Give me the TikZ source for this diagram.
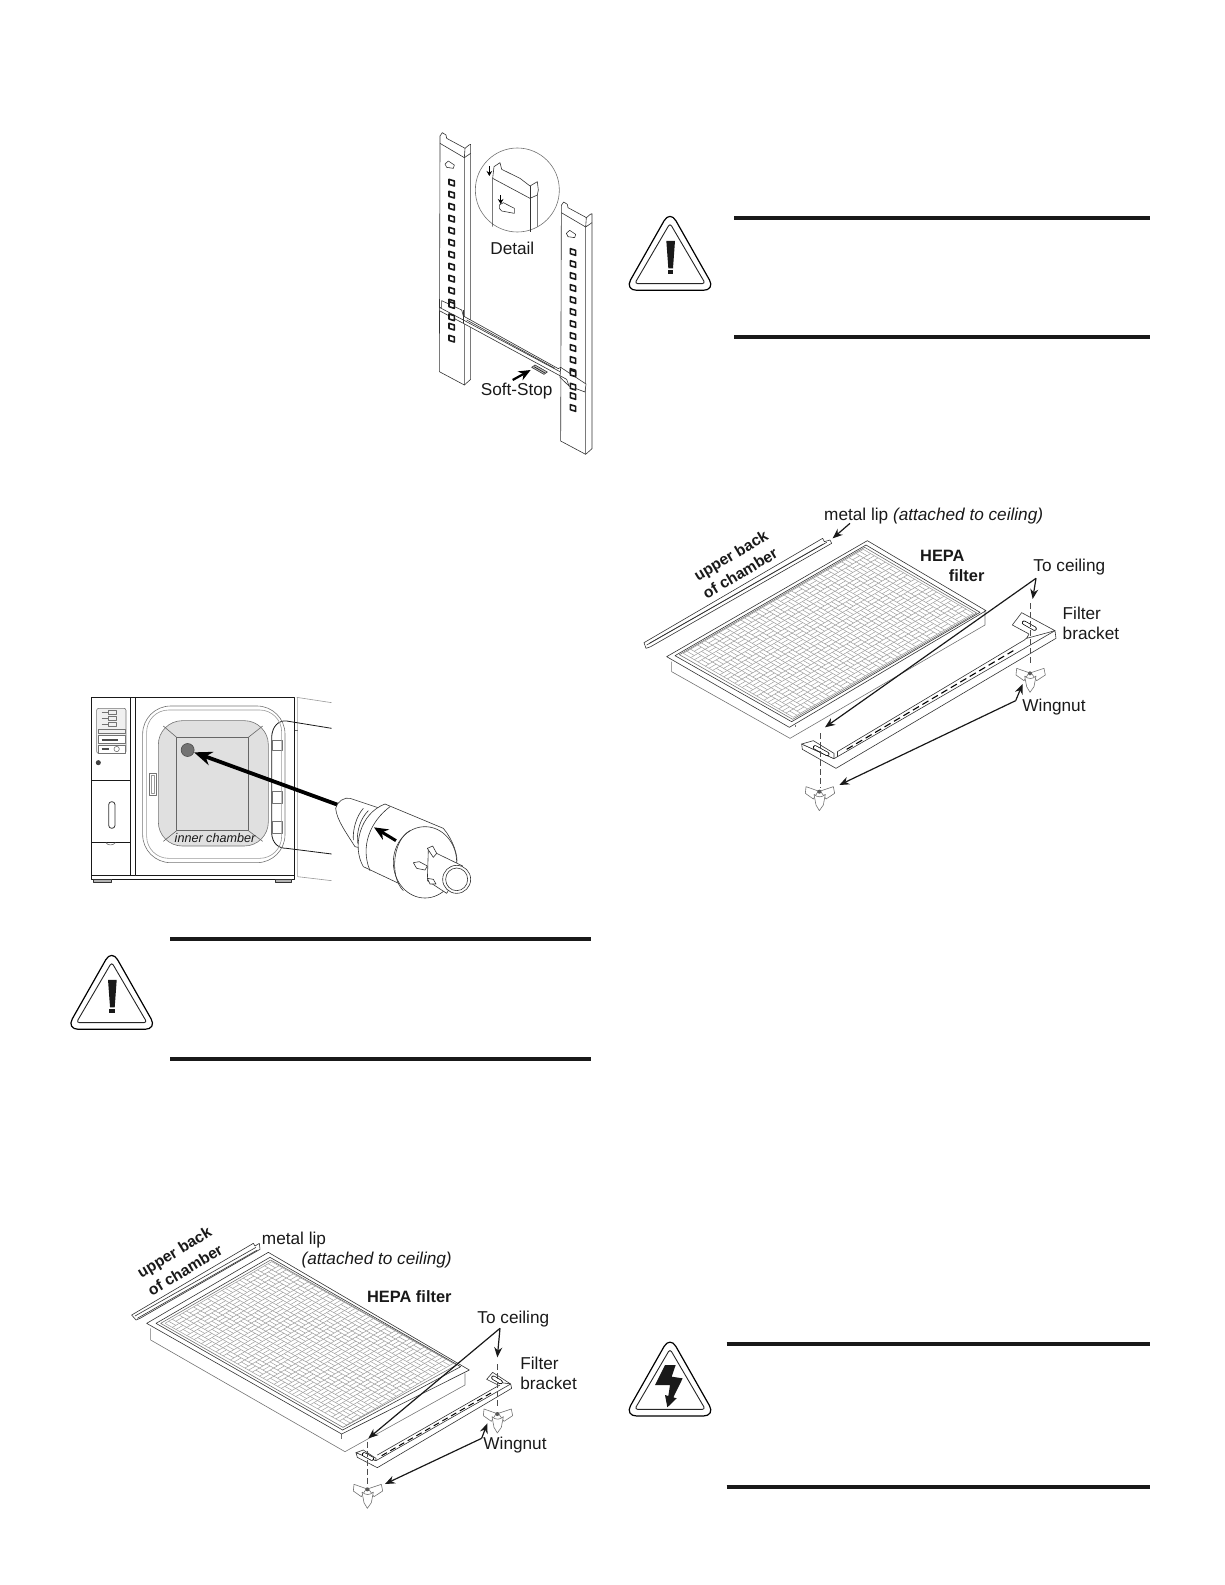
\documentclass[tikz,border=0pt]{standalone}
\usepackage{fontspec}
\setmainfont{Liberation Sans}
\usetikzlibrary{arrows.meta}
\tikzset{
  zoomed/.style 2 args={shift={(#1,#2)},scale=1/3},
  lbl/.style={inner sep=0pt,yshift=-.7pt,text=black!90,font=\fontsize{8.6}{10}\selectfont},
  boldlbl/.style={inner sep=0pt,text=black!90,font=\fontsize{8.2}{10}\selectfont\bfseries},
  tiltlbl/.style={inner sep=0pt,text=black!90,rotate=31,font=\fontsize{7.8}{10}\selectfont\bfseries},
  thinline/.style={line width=.3pt,black!80},
  fineline/.style={line width=.3pt,black!55},
  faintline/.style={line width=.3pt,black!40},
  meshline/.style={line width=.25pt,black!38},
  callout/.style={line width=.6pt,black!90,-{Stealth[length=5pt,width=4pt]}},
  heavyarrow/.style={line width=1.1pt,black,-{Stealth[length=6pt,width=5pt]}},
  guide/.style={line width=.35pt,black!70,dash pattern=on 3pt off 1.5pt},
  rulebar/.style={line width=2pt,black!90},
  slot/.style={line width=.35pt,black,double=white,double distance=1.4pt,line cap=round},
  pics/wingnut/.style={code={
    \draw[fineline,fill=white] (-3,-2)--(-40,-15)--(-42,5)--(-18,22)--cycle;
    \draw[fineline,fill=white] (3,-2)--(42,-15)--(46,5)--(20,22)--cycle;
    \draw[fineline,fill=white] (-16,8)--(-10,40)--(0,57)--(12,40)--(18,8) .. controls (8,18) and (-6,18) .. (-16,8);
    \fill[black!65] (0,0) circle (3pt);
  }},
  pics/warntri/.style={code={
    \draw[line width=.6pt,rounded corners=6pt] (0,-24)--(-136,216)--(136,216)--cycle;
    \draw[line width=.45pt,black!85,rounded corners=1.5pt] (0,15)--(-106,196)--(106,196)--cycle;
  }},
  pics/bang/.style={code={
    \fill[black!90] (-11,68)--(15,68)--(9,150)--(-5,150)--cycle;
    \fill[black!90] (-7,156) rectangle (10,168);
  }},
  pics/bolt/.style={code={
    \fill[black!90] (-15,63)--(17,63)--(5,98)--(38,103)--(10,160)--(20,163)--(-8,190)--(-15,153)--(-5,156)--(0,123)--(-45,123)--cycle;
  }},
  pics/railhole/.style={code={
    \draw[line width=.8pt,black!90,fill=white] (-8,-10)--(8,-5)--(8,10)--(-8,5)--cycle;
  }},
  pics/rail/.style={code={
    \draw[fineline,black!80] (0,0)--(0,-22)--(7,-32)--(18,-25)--(20,-15)--(70,12)--(75,15)--(87,5)--(92,3)--(92,30)--(92,708)--(73,725)--(-2,685)--cycle;
    \draw[fineline,black!80] (0,0)--(73,43)--(73,725);
    \draw[fineline,black!80] (75,15)--(73,43)--(92,30);
    \draw[fineline,black!80] (15,62)--(25,53)--(43,65)--(40,75)--(20,72)--cycle;
    \foreach \n in {0,...,13}
      \pic[scale=1/3] at (35,118+36*\n) {railhole};
  }},
}
%% mesh: origin, step along one side, step along the other, cell counts
\newcommand{\meshgrid}[8]{
  \begin{scope}[shift={(#1,#2)},x={({#3*0.5pt},{-#4*0.5pt})},y={({#5*0.5pt},{-#6*0.5pt})}]
    \foreach \i in {0,...,#7}
      \draw[meshline] (\i,0) -- (\i,#8);
    \foreach \j in {0,...,#8}
      \draw[meshline] (0,\j) -- (#7,\j);
    \foreach \i in {1,...,#7}
      \foreach \j in {1,...,#8} {
        \pgfmathtruncatemacro{\odd}{mod(\i+\j,2)}
        \ifnum\odd=0
          \draw[meshline] (\i-1,\j-.5) -- (\i,\j-.5);
        \else
          \draw[meshline] (\i-.5,\j-1) -- (\i-.5,\j);
        \fi
      }
  \end{scope}
}
\begin{document}
\begin{tikzpicture}[x=.5pt,y=-.5pt,line join=round]
\useasboundingbox (0,0) rectangle (1225,1585);
%% shelf rails
\begin{scope}[zoomed={420}{110}]
  \pic[scale=1/3] at (60,100) {rail};
  \pic[scale=1/3] at (424,308) {rail};
  \draw[thinline,fill=white] (58,592)--(58,602)--(130,640)--(440,808)--(447,828)--(495,846)--(498,822)--(422,772)--(415,776)--(130,618)--(125,600)--(65,572)--(65,592)--cycle;
  \draw[thinline] (58,592)--(130,630)--(420,785);
  \draw[thinline] (130,600)--(130,640);
  \draw[thinline] (422,772)--(420,802)--(447,828);
  \draw[thinline] (140,630)--(405,775);
  \pic[scale=1/3] at (95,585) {railhole};
  \pic[scale=1/3] at (95,622) {railhole};
  \pic[scale=1/3] at (459,790) {railhole};
  \pic[scale=1/3] at (459,830) {railhole};
  \draw[thinline,fill=black!25] (335,772)--(345,765)--(382,786)--(372,793)--cycle;
  \draw[line width=.25pt] (342,770)--(375,789);
  %% detail
  \node (detailring) at (292,240) [circle,draw=black!55,line width=.3pt,minimum size=42pt,inner sep=0pt] {};
  \draw[thinline] (218,350)--(218,205)--(222,170)--(240,158)--(245,178)--(300,205)--(330,228)--(352,215)--(355,240)--(352,255)--(352,350);
  \draw[thinline] (218,205)--(330,265)--(352,255);
  \draw[thinline] (330,228)--(330,365);
  \draw[thinline] (238,285)--(250,278)--(283,295)--(283,310)--(245,303)--(238,295)--cycle;
  \coordinate (tabtail) at (208,168);
  \coordinate (tabtip) at (208,198);
  \coordinate (slottail) at (242,255);
  \coordinate (slottip) at (242,282);
  \draw[line width=.7pt,-{Stealth[length=2.5pt,width=2.8pt]}] (tabtail) -- (tabtip);
  \draw[line width=.7pt,-{Stealth[length=2.5pt,width=2.8pt]}] (slottail) -- (slottip);
  \node (detail) at (277,410) [lbl] {Detail};
  \node (softstop) at (290,840) [lbl] {Soft-Stop};
  \coordinate (softtail) at (278,810);
  \coordinate (softtip) at (332,780);
  \draw[heavyarrow] (softtail) -- (softtip);
\end{scope}
%% incubator
\begin{scope}[zoomed={70}{680}]
  \draw[faintline] (680,52)--(785,68);
  \draw[faintline] (683,52)--(683,590)--(785,602);
  \draw[fineline,black!60] (672,150)--(683,150);
  \draw[line width=.4pt,black!90] (785,145)--(650,123) .. controls (625,120) and (607,140) .. (605,170)--(605,460) .. controls (607,490) and (625,505) .. (650,505)--(785,522);
  \draw[fineline] (608,180) rectangle (637,212);
  \draw[fineline] (608,335) rectangle (637,370);
  \draw[fineline] (608,425) rectangle (637,460);
  \draw[line width=.45pt,black!90] (65,52) rectangle (672,598);
  \draw[line width=.7pt,black!90] (182,52)--(182,585);
  \draw[line width=.35pt,black!90] (195,52)--(195,585)--(672,585);
  \draw[line width=.35pt,black!90] (65,585)--(195,585);
  \draw[line width=.5pt,black!90] (65,300)--(182,300);
  \draw[line width=.5pt,black!90] (65,488)--(182,488);
  \draw[fineline] (108,488) .. controls (112,497) and (130,497) .. (136,488);
  \draw[line width=.5pt,black!80,fill=black!30] (70,598) rectangle (125,606);
  \draw[line width=.5pt,black!80,fill=black!30] (615,598) rectangle (665,606);
  \draw[line width=.4pt,black!80,rounded corners=1.5pt] (116,365) rectangle (135,445);
  \fill[black!75] (85,248) circle (3.8pt);
  \draw[fineline,fill=black!6,rounded corners=1pt] (80,85) rectangle (168,220);
  \foreach \yy in {97,115,133} {
    \draw[fineline] (95,\yy)--(115,\yy);
    \draw[fineline] (115,\yy-5) rectangle (140,\yy+6);
  }
  \draw[fineline] (85,147) rectangle (165,160);
  \draw[fineline,fill=white] (85,165) rectangle (165,190);
  \draw[line width=.8pt,black!70] (95,180)--(145,180);
  \draw[fineline,fill=white] (85,195) rectangle (165,220);
  \draw[line width=.7pt,black!70] (95,207)--(118,207);
  \draw[fineline] (140,207) circle (4pt);
  %% door window
  \draw[fineline,rounded corners=14pt] (218,78) rectangle (645,548);
  \draw[faintline,rounded corners=11pt] (230,90) rectangle (635,535);
  \draw[fineline,fill=black!12,rounded corners=12pt] (265,122) rectangle (595,498);
  \draw[fineline,black!60] (320,172) rectangle (535,452);
  \draw[fineline,black!60] (320,172)--(280,138);
  \draw[fineline,black!60] (535,172)--(578,138);
  \draw[fineline,black!60] (320,452)--(280,484);
  \draw[fineline,black!60] (535,452)--(578,484);
  \draw[fineline] (237,280) rectangle (260,345);
  \draw[faintline] (243,285) rectangle (254,340);
  \node (innerchamber) at (435,475) [inner sep=0pt,text=black!90,font=\fontsize{6.3}{8}\selectfont\itshape] {inner chamber};
  \node (portdot) at (353,210) [circle,fill=black!55,draw=black!70,line width=.3pt,minimum size=6.5pt,inner sep=0pt] {};
  \coordinate (nose) at (805,375);
  \draw[line width=1.9pt,black,-{Stealth[length=9pt,width=7pt]}] (nose) -- (portdot);
  %% cartridge
  \draw[thinline,fill=white] (797,385) .. controls (800,365) and (825,350) .. (840,355)--(930,385)--(900,510)--(855,500) .. controls (830,460) and (800,420) .. (797,385);
  \draw[thinline] (880,385) .. controls (858,410) and (848,450) .. (850,480);
  \draw[thinline] (895,392) .. controls (872,415) and (860,450) .. (862,490);
  \draw[thinline,fill=white] (945,372)--(1120,445) .. controls (1150,480) and (1165,530) .. (1160,550)--(1075,652)--(880,560) .. controls (845,500) and (870,400) .. (945,372);
  \draw[thinline] (960,380) .. controls (900,425) and (870,500) .. (900,572);
  \draw[thinline,fill=white] (1065,547) ellipse (95 and 107);
  \draw[thinline] (1000,632) .. controls (958,590) and (968,480) .. (1020,452);
  \draw[thinline,fill=white] (1075,508)--(1178,558)--(1130,640)--(1072,602)--cycle;
  \draw[thinline,fill=white] (1030,548)--(1048,545)--(1072,558)--(1065,570)--(1040,565)--cycle;
  \draw[thinline,fill=white] (1072,505)--(1088,498)--(1100,520)--(1090,532)--cycle;
  \draw[thinline,fill=white] (1072,595)--(1090,598)--(1098,612)--(1080,612)--cycle;
  \draw[thinline,fill=white] (1160,598) ellipse (42 and 42);
  \draw[thinline,fill=white] (1160,598) ellipse (33 and 34);
  \coordinate (cartail) at (978,482);
  \coordinate (cartip) at (912,442);
  \draw[line width=1.5pt,black,-{Stealth[length=7pt,width=6pt]}] (cartail) -- (cartip);
\end{scope}
%% warning signs
\pic[scale=1/3] at (111.7,957.3) {warntri};
\pic[scale=1/3] at (111.7,957.3) {bang};
\pic[scale=1/3] at (670,218.3) {warntri};
\pic[scale=1/3] at (670,218.3) {bang};
\pic[scale=1/3] at (670,1344) {warntri};
\pic[scale=1/3] at (670,1344) {bolt};
\coordinate (rulea) at (170,939);
\coordinate (ruleb) at (591,939);
\coordinate (rulec) at (170,1058.7);
\coordinate (ruled) at (591,1058.7);
\coordinate (rulee) at (734,218);
\coordinate (rulef) at (1150,218);
\coordinate (ruleg) at (734,336.7);
\coordinate (ruleh) at (1150,336.7);
\coordinate (rulei) at (726.7,1344);
\coordinate (rulej) at (1150,1344);
\coordinate (rulek) at (726.7,1486.7);
\coordinate (rulel) at (1150,1486.7);
\foreach \a/\b in {rulea/ruleb,rulec/ruled,rulee/rulef,ruleg/ruleh,rulei/rulej,rulek/rulel}
  \draw[rulebar] (\a) -- (\b);
%% right filter
\begin{scope}[zoomed={630}{490}]
  \draw[thinline,fill=white] (42,458)--(48,475)--(62,470)--(605,160)--(600,150)--(583,155)--(578,145)--cycle;
  \draw[thinline] (50,465)--(590,157);
  \draw[thinline] (58,460)--(580,162);
  \draw[fineline] (125,515)--(125,545)--(480,745)--(1065,405)--(1065,360);
  \draw[fineline] (495,705)--(495,712);
  \draw[thinline] (712,152)--(110,500)--(478,712)--(1068,362)--cycle;
  \draw[thinline] (708,165)--(135,497)--(485,695)--(1050,367)--cycle;
  \draw[fineline] (704,172)--(148,494)--(488,688)--(1040,369)--cycle;
  \meshgrid{700}{178}{22}{12.8}{-21.6}{12.48}{15}{25}
  \node (backright) at (305,200) [tiltlbl] {upper back};
  \node (chamberright) at (330,250) [tiltlbl] {of chamber};
  \node (lipright) at (911,75) [lbl] {metal lip \textit{(attached to ceiling)}};
  \node (heparight) at (937,197) [boldlbl] {HEPA};
  \node (filterright) at (1010,257) [boldlbl] {filter};
  \node (ceilright) at (1318,228) [lbl] {To ceiling};
  \node (bracketright) at (1297,396) [lbl,anchor=west,align=left] {Filter\\bracket};
  \node (wingright) at (1272,648) [lbl] {Wingnut};
  %% bracket
  \draw[thinline,fill=white] (515,762)--(517,778)--(618,835)--(1278,445)--(1275,422)--(612,806)--cycle;
  \draw[thinline,fill=white] (515,762)--(550,752)--(612,790)--(612,806)--cycle;
  \draw[slot] (555,772)--(592,792);
  \draw[thinline] (622,785)--(1183,450)--(1197,438);
  \draw[thinline] (622,785)--(622,800);
  \draw[thinline,fill=white] (1175,368)--(1147,405)--(1197,432)--(1190,445)--(1275,422)--cycle;
  \draw[slot] (1182,398)--(1214,416);
  \draw[line width=.55pt,dash pattern=on 3.5pt off 2pt] (650,778)--(1150,482);
  %% leaders
  \pic[scale=1/3] at (568,905) {wingnut};
  \pic[scale=1/3] at (1200,550) {wingnut};
  \coordinate (guidea) at (570,730);
  \coordinate (guideb) at (570,895);
  \coordinate (guidec) at (1200,340);
  \coordinate (guided) at (1200,525);
  \draw[guide] (guidea) -- (guideb);
  \draw[guide] (guidec) -- (guided);
  \coordinate (ceilapex) at (1218,265);
  \coordinate (ceilfar) at (585,712);
  \coordinate (ceilnear) at (1208,327);
  \draw[callout] (ceilapex) -- (ceilfar);
  \draw[callout] (ceilapex) -- (ceilnear);
  \coordinate (wingapex) at (1157,632);
  \coordinate (wingnear) at (1178,582);
  \coordinate (wingfar) at (628,885);
  \draw[callout] (wingapex) -- (wingnear);
  \draw[callout] (wingapex) -- (wingfar);
  \coordinate (liptail) at (660,100);
  \coordinate (liptip) at (608,145);
  \draw[callout] (liptail) -- (liptip);
\end{scope}
%% left filter
\begin{scope}[zoomed={120}{1210}]
  \draw[thinline,fill=white] (35,315)--(48,330)--(60,325)--(420,118)--(418,100)--(405,108)--(400,100)--cycle;
  \draw[thinline] (45,318)--(408,112);
  \draw[thinline] (52,325)--(412,120);
  \draw[fineline] (92,355)--(92,390)--(675,725)--(1035,525)--(1035,490);
  \draw[fineline] (665,672)--(665,688);
  \draw[thinline] (445,127)--(80,340)--(665,672)--(1048,480)--cycle;
  \draw[thinline] (450,142)--(108,340)--(668,660)--(1022,470)--cycle;
  \draw[fineline] (452,150)--(122,340)--(669,652)--(1010,465)--cycle;
  \meshgrid{455}{155}{21.8}{12.2}{-21.33}{12.33}{25}{15}
  \node (backleft) at (165,130) [tiltlbl] {upper back};
  \node (chamberleft) at (195,180) [tiltlbl] {of chamber};
  \node (lipleft) at (522,85) [lbl] {metal lip};
  \node (attachleft) at (770,145) [lbl,font=\fontsize{8.6}{10}\selectfont\itshape] {(attached to ceiling)};
  \node (hepaleft) at (868,260) [boldlbl] {HEPA filter};
  \node (ceilleft) at (1180,323) [lbl] {To ceiling};
  \node (bracketleft) at (1200,486) [lbl,anchor=west,align=left] {Filter\\bracket};
  \node (wingleft) at (1185,700) [lbl] {Wingnut};
  %% bracket
  \draw[thinline,fill=white] (708,728)--(712,742)--(772,773)--(1175,535)--(1172,522)--(768,752)--cycle;
  \draw[thinline,fill=white] (708,728)--(730,720)--(768,745)--(768,752)--cycle;
  \draw[slot] (732,733)--(756,746);
  \draw[thinline] (772,735)--(1125,533)--(1140,525);
  \draw[thinline,fill=white] (1118,487)--(1100,508)--(1130,523)--(1145,518)--(1172,522)--cycle;
  \draw[slot] (1120,503)--(1142,516);
  \draw[line width=.5pt,dash pattern=on 3pt off 2pt] (785,737)--(1115,548);
  %% leaders
  \pic[scale=1/3] at (742,838) {wingnut};
  \pic[scale=1/3] at (1132,612) {wingnut};
  \coordinate (guidea) at (742,695);
  \coordinate (guideb) at (742,825);
  \coordinate (guidec) at (1132,462);
  \coordinate (guided) at (1132,597);
  \draw[guide] (guidea) -- (guideb);
  \draw[guide] (guidec) -- (guided);
  \coordinate (ceilapex) at (1140,355);
  \coordinate (ceilfar) at (745,685);
  \coordinate (ceilnear) at (1132,442);
  \draw[callout] (ceilapex) -- (ceilfar);
  \draw[callout] (ceilapex) -- (ceilnear);
  \coordinate (wingapex) at (1085,685);
  \coordinate (wingnear) at (1102,640);
  \coordinate (wingfar) at (795,822);
  \draw[callout] (wingapex) -- (wingnear);
  \draw[callout] (wingapex) -- (wingfar);
\end{scope}
\end{tikzpicture}
\end{document}
